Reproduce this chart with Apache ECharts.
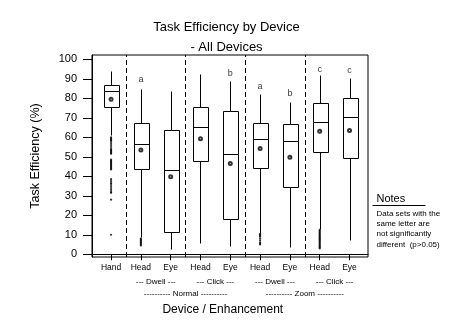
<!DOCTYPE html>
<html><head><meta charset="utf-8">
<script src="https://cdn.jsdelivr.net/npm/echarts@6/dist/echarts.min.js"></script>
<style>html,body{margin:0;padding:0;background:#fff}#c{width:453px;height:333px}</style>
</head><body><div id="c"></div>
<script>
// ---- data ----
const categories = ['Hand','Head','Eye','Head','Eye','Head','Eye','Head','Eye'];
const catPos = [1,2,3,4,5,6,7,8,9];
const lowWhisker = [61, 9, 2.6, 6, 4.4, 11, 3.6, 13, 7.5];
const q1 =         [75.7, 43.7, 11.3, 47.7, 18.1, 44.2, 34.7, 52.3, 49.4];
const median =     [83.9, 56.4, 43.2, 65.1, 51.3, 59.0, 58.1, 67.8, 70.4];
const q3 =         [86.8, 67.2, 63.5, 75.4, 73.5, 67.2, 66.6, 77.4, 80.0];
const highWhisker =[94.2, 84.8, 83.7, 92.3, 88.9, 82.2, 78.3, 91.9, 90.2];
const means =      [79.5, 53.5, 39.8, 59.3, 46.5, 54.3, 49.7, 63.1, 63.5];
const outHand = [60,59.5,59,58.5,58,57,56,55,54,53.5,53,52.5,52,51.5,48.5,48,47.5,47,46.5,46,45.5,45,44.5,44,43.5,38.5,37.5,36.5,36,35,34,33,32,31.5,28,10];
const outHeadDwell = [8,7.5,7,6.5,6,5.5,5,4.5];
const outHeadDwellZoom = [10.5,10,9.5,9,8,7,6,5.5,5];
const outHeadClickZoom = [12.5,12,11.5,11,10.5,10,9.5,9,8.5,8,7.5,7,6.5,6,5.5,5,4.5,4,3.5,3];
const letters = ['a','b','a','b','c','c'];
const letterPos = [2,5,6,7,8,9];
const letterY = [89.4, 92.8, 85.8, 82.5, 94.9, 94.2];
const modeLabels = ['--- Dwell ---','--- Click ---','--- Dwell ---','--- Click ---'];
const modePos = [2.5,4.5,6.5,8.5];
const groupLabels = ['---------- Normal ----------','---------- Zoom ----------'];
const groupPos = [3.5,7.5];
const yTicks = [0,10,20,30,40,50,60,70,80,90,100];
const separators = [1.5,3.5,5.5,7.5];
const notesLines = ['Data sets with the','same letter are','not significantly','different  (p>0.05)'];

const FONT = "'Liberation Sans', Arial, sans-serif";
const chart = echarts.init(document.getElementById('c'), null, {renderer:'canvas'});

function renderBox(params, api) {
  const x = api.value(0);
  const half = api.size([1,0])[0] * 0.25;
  const pLow = api.coord([x, api.value(1)]);
  const pQ1 = api.coord([x, api.value(2)]);
  const pMed = api.coord([x, api.value(3)]);
  const pQ3 = api.coord([x, api.value(4)]);
  const pHigh = api.coord([x, api.value(5)]);
  const cx = Math.round(pLow[0]) + 0.5;
  const l = Math.round(cx - half) + 0.5, r = Math.round(cx + half) + 0.5;
  const rd = v => Math.round(v) + 0.5;
  const st = {stroke:'#000', lineWidth:1, fill:null};
  return {type:'group', children:[
    {type:'line', shape:{x1:cx,y1:rd(pHigh[1]),x2:cx,y2:rd(pQ3[1])}, style:st},
    {type:'line', shape:{x1:cx,y1:rd(pQ1[1]),x2:cx,y2:rd(pLow[1])}, style:st},
    {type:'rect', shape:{x:l, y:rd(pQ3[1]), width:r-l, height:rd(pQ1[1])-rd(pQ3[1])}, style:{fill:'#fff',stroke:'#000',lineWidth:1}},
    {type:'line', shape:{x1:l,y1:rd(pMed[1]),x2:r,y2:rd(pMed[1])}, style:st}
  ]};
}

const boxData = catPos.map((x,i)=>[x, lowWhisker[i], q1[i], median[i], q3[i], highWhisker[i]]);
const outlierData = [].concat(
  outHand.map(v=>[1,v]),
  outHeadDwell.map(v=>[2,v]),
  outHeadDwellZoom.map(v=>[6,v]),
  outHeadClickZoom.map(v=>[8,v])
);

const xCommon = {type:'value', min:0.36, max:9.62, gridIndex:0, position:'bottom', splitLine:{show:false}};

chart.setOption({
  animation:false,
  backgroundColor:'#fff',
  textStyle:{fontFamily:FONT, color:'#000'},
  title:{text:'Task Efficiency by Device\n- All Devices', left:'center', top:12,
    textStyle:{fontFamily:FONT, fontSize:13, fontWeight:'normal', color:'#000', lineHeight:20}},
  grid:{left:92, top:55, width:276, height:202, show:true, borderColor:'#000', borderWidth:1, backgroundColor:'transparent'},
  xAxis:[
    Object.assign({}, xCommon, {
      axisLine:{show:true, lineStyle:{color:'#000'}},
      axisTick:{show:true, length:6, customValues:catPos, lineStyle:{color:'#000'}},
      axisLabel:{customValues:catPos, formatter:v=>categories[Math.round(v)-1], fontSize:8.5, margin:6, color:'#000', fontFamily:FONT}
    }),
    Object.assign({}, xCommon, {
      axisLine:{show:false}, axisTick:{show:false},
      axisLabel:{customValues:modePos, formatter:v=>modeLabels[modePos.indexOf(v)], fontSize:8, margin:21, color:'#000', fontFamily:FONT}
    }),
    Object.assign({}, xCommon, {
      axisLine:{show:false}, axisTick:{show:false},
      axisLabel:{customValues:groupPos, formatter:v=>groupLabels[groupPos.indexOf(v)], fontSize:8, margin:33, color:'#000', fontFamily:FONT}
    })
  ],
  yAxis:{type:'value', min:-1.4, max:102.2,
    name:'Task Efficiency (%)', nameLocation:'middle', nameGap:50,
    nameTextStyle:{fontSize:12.5, color:'#000', fontFamily:FONT},
    axisLine:{show:true, lineStyle:{color:'#000'}},
    axisTick:{show:true, length:9, customValues:yTicks, lineStyle:{color:'#000'}},
    axisLabel:{customValues:yTicks, fontSize:11, margin:15, color:'#000', fontFamily:FONT},
    splitLine:{show:false}},
  series:[
    {type:'custom', name:'box', renderItem:renderBox, data:boxData, encode:{x:0, y:[1,2,3,4,5]}, z:2,
     markLine:{silent:true, symbol:'none', label:{show:false},
       lineStyle:{color:'#000', type:[5,3], width:1},
       data:separators.map(v=>({xAxis:v}))}},
    {type:'scatter', name:'outliers', data:outlierData, symbol:'circle', symbolSize:2.2,
     itemStyle:{color:'#000'}, z:3},
    {type:'scatter', name:'mean', data:catPos.map((x,i)=>[x, means[i]]), symbol:'emptyCircle', symbolSize:3,
     itemStyle:{color:'#000', borderColor:'#000', borderWidth:0.8}, z:4},
    {type:'scatter', name:'letters', symbolSize:0, itemStyle:{color:'#000'},
     data:letters.map((t,i)=>({name:t, value:[letterPos[i], letterY[i]]})),
     label:{show:true, position:'inside', formatter:p=>p.name, fontSize:9, color:'#000', textBorderWidth:0, fontFamily:FONT}, z:5}
  ],
  graphic:[
    {type:'text', x:222.8, y:310, style:{text:'Device / Enhancement', font:'12px '+FONT, fill:'#000', textAlign:'center', textVerticalAlign:'middle'}},
    {type:'text', x:376.5, y:199.3, style:{text:'Notes', font:'11px '+FONT, fill:'#000', textAlign:'left', textVerticalAlign:'middle'}},
    {type:'line', shape:{x1:372.5, y1:205.5, x2:425.5, y2:205.5}, style:{stroke:'#000', lineWidth:1}},
    {type:'text', x:376.5, y:208.5, style:{text:notesLines.join('\n'), font:'8px '+FONT, fill:'#000', lineHeight:10.3, textAlign:'left', textVerticalAlign:'top'}}
  ]
});
</script></body></html>
